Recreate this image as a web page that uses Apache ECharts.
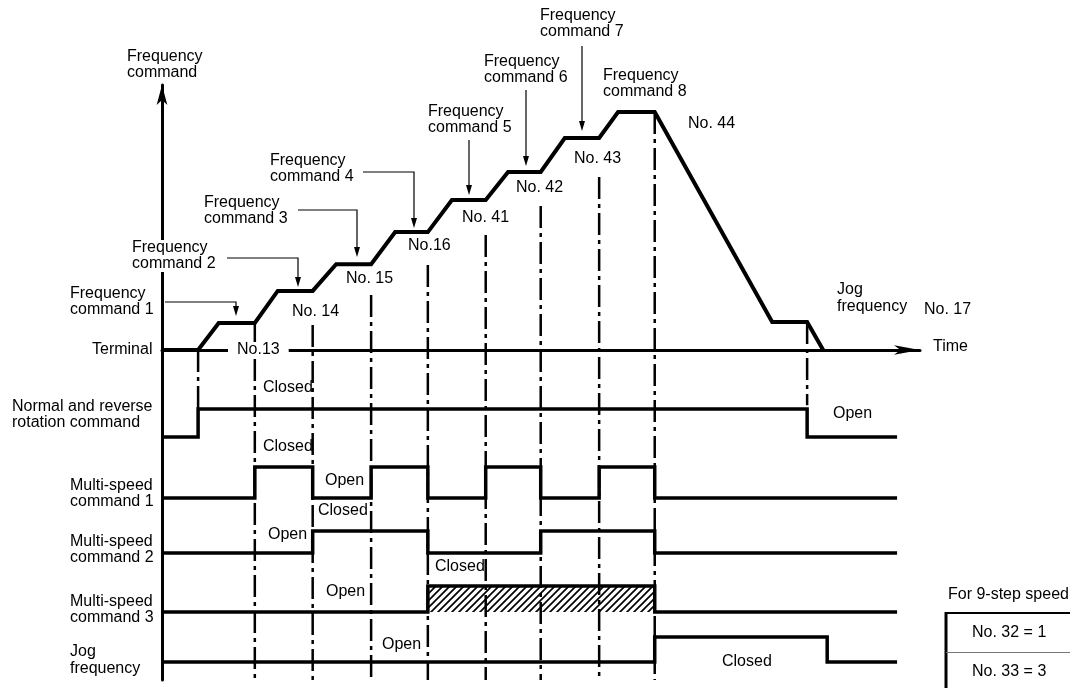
<!DOCTYPE html>
<html><head><meta charset="utf-8">
<script src="https://cdn.jsdelivr.net/npm/echarts@6/dist/echarts.min.js"></script>
<style>html,body{margin:0;padding:0;background:#fff}#c{width:1070px;height:688px}</style>
</head><body><div id="c"></div>
<script>
// ---------- DATA (time in arbitrary units, one step = about 10 units; frequency in % of axis) ----------
const freqTimes  = [0, 6.3, 9.9, 16.2, 20.2, 26.3, 30.4, 36.5, 40.7, 46.4, 50.6, 56.5, 60.4, 66.1, 70.3, 76.3, 79.6, 86.0, 106.5, 112.6, 115.4];
const freqValues = [0, 0, 10.2, 10.2, 22.3, 22.3, 32.4, 32.4, 44.5, 44.5, 56.6, 56.6, 67.2, 67.2, 80.0, 80.0, 89.8, 89.8, 10.6, 10.6, 0];

const markerTimes   = [6.3, 16.2, 26.3, 36.5, 46.4, 56.5, 66.1, 76.3, 86.0, 112.6];
const markerTops    = [0, 10.2, 9.4, 20.8, 32.1, 43.4, 54.3, 65.3, 89.8, 10.6];
const markerBottoms = [-22.3, -124.5, -124.5, -124.5, -124.5, -124.5, -124.5, -124.5, -124.5, -20.8];

const rotationTimes  = [0, 6.3, 112.6, 128.3];
const rotationLevels = [0, 1, 0, 0];
const ms1Times  = [0, 16.2, 26.3, 36.5, 46.4, 56.5, 66.1, 76.3, 86.0, 128.3];
const ms1Levels = [0, 1, 0, 1, 0, 1, 0, 1, 0, 0];
const ms2Times  = [0, 26.3, 46.4, 66.1, 86.0, 128.3];
const ms2Levels = [0, 1, 0, 1, 0, 0];
const ms3Times  = [0, 46.4, 86.0, 128.3];
const ms3Levels = [0, 1, 0, 0];
const jogTimes  = [0, 86.0, 116.1, 128.3];
const jogLevels = [0, 1, 0, 0];

const rowLabels = ['Terminal', 'Normal and reverse\nrotation command', 'Multi-speed\ncommand 1', 'Multi-speed\ncommand 2', 'Multi-speed\ncommand 3', 'Jog\nfrequency'];
const cmdLabels = ['Frequency\ncommand 1','Frequency\ncommand 2','Frequency\ncommand 3','Frequency\ncommand 4','Frequency\ncommand 5','Frequency\ncommand 6','Frequency\ncommand 7','Frequency\ncommand 8'];
const paramLabels = ['No.13','No. 14','No. 15','No.16','No. 41','No. 42','No. 43','No. 44','No. 17'];
const stateLabels = ['Closed','Closed','Open','Closed','Open','Open','Closed','Open','Open','Closed'];
const tableRows = ['No. 32 = 1', 'No. 33 = 3'];

// ---------- LAYOUT (pixels) ----------
const FONT = '"Liberation Sans", Arial, Helvetica, sans-serif';
const L = {
  plot: {left: 162, width: 758},
  main: {top: 85, height: 595},
  rows: [{top: 409, height: 28}, {top: 467, height: 31}, {top: 531, height: 22}, {top: 586, height: 26}, {top: 637, height: 25}],
  rowLabelPos: [[92, 350], [12, 407], [70, 486], [70, 542], [70, 602], [70, 652]],
  cmdPos: [[70, 294], [132, 248], [204, 203], [270, 161], [428, 112], [484, 62], [540, 16], [603, 76]],
  paramPos: [[237, 350], [292, 312], [346, 279], [408, 246], [462, 218], [516, 188], [574, 159], [688, 124], [924, 310]],
  statePos: [[263, 388], [263, 447], [325, 481], [318, 511], [268, 535], [326, 592], [435, 567], [382, 645], [833, 414], [722, 662]],
  leaders: [
    [[165, 302], [236, 302], [236, 316]],
    [[227, 258], [298, 258], [298, 287]],
    [[298, 210], [357, 210], [357, 257]],
    [[363, 172], [414, 172], [414, 228]],
    [[469, 140], [469, 195]],
    [[526, 90], [526, 166]],
    [[582, 46], [582, 131]]
  ]
};
const XMAX = 132.3, YMIN = -124.5, YMAX = 100;

// hatch pattern
const hc = document.createElement('canvas'); hc.width = 7; hc.height = 7;
const g = hc.getContext('2d'); g.strokeStyle = '#000'; g.lineWidth = 1.7; g.beginPath();
g.moveTo(-1, 8); g.lineTo(8, -1); g.moveTo(-4, 4); g.lineTo(4, -4); g.moveTo(3, 11); g.lineTo(11, 3); g.stroke();

const chart = echarts.init(document.getElementById('c'), null, {renderer: 'canvas'});

const grids = [{left: L.plot.left, width: L.plot.width, top: L.main.top, height: L.main.height}]
  .concat(L.rows.map(r => ({left: L.plot.left, width: L.plot.width, top: r.top, height: r.height})));

const xAxes = grids.map((gr, i) => ({
  type: 'value', gridIndex: i, min: 0, max: XMAX, show: i === 0,
  axisLine: {show: i === 0, onZero: true, symbol: ['none', 'arrow'], symbolSize: [7, 26], lineStyle: {color: '#000', width: 3}},
  axisTick: {show: false}, axisLabel: {show: false}, splitLine: {show: false}
}));
const yAxes = grids.map((gr, i) => i === 0 ? {
  type: 'value', gridIndex: 0, min: YMIN, max: YMAX,
  axisLine: {show: true, symbol: ['none', 'arrow'], symbolSize: [8, 20], lineStyle: {color: '#000', width: 3}},
  axisTick: {show: false}, axisLabel: {show: false}, splitLine: {show: false}
} : {type: 'value', gridIndex: i, min: 0, max: 1, show: false, splitLine: {show: false}});

const pair = (ts, vs) => ts.map((t, i) => [t, vs[i]]);
const sig = (idx, ts, vs, extra) => Object.assign({
  type: 'line', xAxisIndex: idx, yAxisIndex: idx, data: pair(ts, vs), step: 'end',
  symbol: 'none', clip: false, z: 3, animation: false,
  lineStyle: {color: '#000', width: 3.5, join: 'miter'}
}, extra || {});

const series = [
  {
    type: 'custom', xAxisIndex: 0, yAxisIndex: 0, clip: false, z: 1, animation: false,
    data: markerTimes.map((t, i) => [t, markerTops[i], markerBottoms[i]]),
    encode: {x: 0, y: [1, 2]},
    renderItem: (p, api) => {
      const a = api.coord([api.value(0), api.value(1)]);
      const b = api.coord([api.value(0), api.value(2)]);
      return {type: 'line', shape: {x1: a[0], y1: a[1], x2: b[0], y2: b[1]},
        style: {stroke: '#000', lineWidth: 2.5, lineDash: [22, 5, 4, 5]}};
    }
  },
  {
    type: 'line', xAxisIndex: 0, yAxisIndex: 0, data: pair(freqTimes, freqValues),
    symbol: 'none', clip: false, z: 4, animation: false,
    lineStyle: {color: '#000', width: 4, join: 'miter'}
  },
  sig(1, rotationTimes, rotationLevels),
  sig(2, ms1Times, ms1Levels),
  sig(3, ms2Times, ms2Levels),
  sig(4, ms3Times, ms3Levels, {areaStyle: {color: {image: hc, repeat: 'repeat'}, opacity: 1, origin: 'start'}}),
  sig(5, jogTimes, jogLevels)
];

// annotation graphics
const txt = (s, x, yc, extra) => {
  const lh = (extra && extra.lineHeight) || 16;
  return {
    type: 'text', z: 100, x: x, y: yc - lh / 2,
    style: Object.assign({text: s, fill: '#000', fontSize: 16, fontFamily: FONT, lineHeight: lh, align: 'left', verticalAlign: 'top'}, (extra && extra.style) || {})
  };
};
const graphics = [];
graphics.push(txt('Frequency\ncommand', 127, 57));
rowLabels.forEach((s, i) => graphics.push(txt(s, L.rowLabelPos[i][0], L.rowLabelPos[i][1], i === 5 ? {lineHeight: 17} : null)));
cmdLabels.forEach((s, i) => {
  const o = txt(s, L.cmdPos[i][0], L.cmdPos[i][1]);
  if (i === 1) { o.style.backgroundColor = '#fff'; }
  graphics.push(o);
});
paramLabels.forEach((s, i) => {
  const o = txt(s, L.paramPos[i][0], L.paramPos[i][1]);
  if (i === 0) { o.style.backgroundColor = '#fff'; o.style.padding = [0, 9, 0, 9]; o.x -= 9; }
  graphics.push(o);
});
stateLabels.forEach((s, i) => graphics.push(txt(s, L.statePos[i][0], L.statePos[i][1])));
graphics.push(txt('Jog\nfrequency', 837, 290, {lineHeight: 17}));
graphics.push(txt('Time', 933, 347));
graphics.push(txt('For 9-step speed', 948, 595));
graphics.push(txt(tableRows[0], 972, 633));
graphics.push(txt(tableRows[1], 972, 672));
// table borders
graphics.push({type: 'line', z: 100, shape: {x1: 946, y1: 612, x2: 946, y2: 688}, style: {stroke: '#000', lineWidth: 3}});
graphics.push({type: 'line', z: 100, shape: {x1: 945, y1: 613, x2: 1070, y2: 613}, style: {stroke: '#000', lineWidth: 2}});
graphics.push({type: 'line', z: 100, shape: {x1: 946, y1: 652.5, x2: 1070, y2: 652.5}, style: {stroke: '#777', lineWidth: 1}});
// leaders
L.leaders.forEach(pts => {
  const tip = pts[pts.length - 1];
  const body = pts.slice(0, -1).concat([[tip[0], tip[1] - 8]]);
  graphics.push({type: 'polyline', z: 100, shape: {points: body}, style: {stroke: '#000', lineWidth: 1.2, fill: null}});
  graphics.push({type: 'polygon', z: 100, shape: {points: [[tip[0] - 3, tip[1] - 10], [tip[0] + 3, tip[1] - 10], [tip[0], tip[1]]]}, style: {fill: '#000'}});
});

chart.setOption({
  animation: false,
  backgroundColor: '#fff',
  grid: grids,
  xAxis: xAxes,
  yAxis: yAxes,
  series: series,
  graphic: {elements: graphics}
});
</script></body></html>
